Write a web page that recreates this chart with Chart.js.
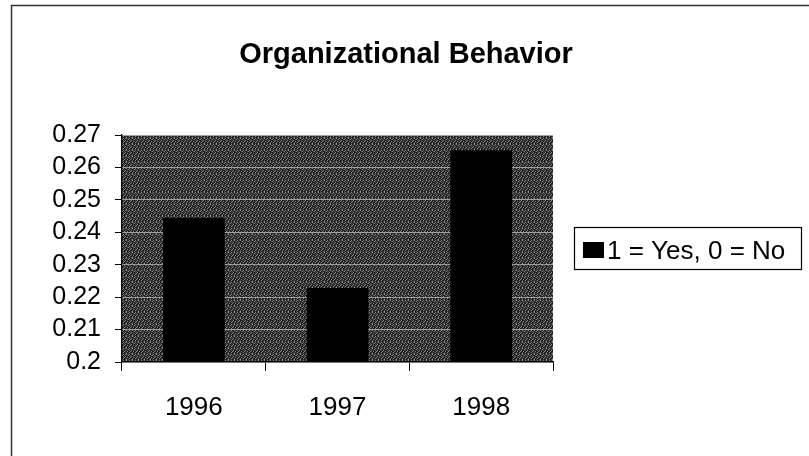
<!DOCTYPE html>
<html><head><meta charset="utf-8">
<script src="https://cdn.jsdelivr.net/npm/chart.js@4"></script>
<style>html,body{margin:0;padding:0;background:#fff}#wrap{width:809px;height:456px}</style>
</head><body><div id="wrap"><canvas id="c" width="809" height="456"></canvas></div>
<script>
const titleText = "Organizational Behavior";
const categories = ["1996", "1997", "1998"];
const seriesLabel = "1 = Yes, 0 = No";
const seriesValues = [0.2445, 0.2228, 0.2653];
const yTicks = [0.2, 0.21, 0.22, 0.23, 0.24, 0.25, 0.26, 0.27];

const FONT = '"Liberation Sans", Arial, sans-serif';

function makePattern(){
  const t = document.createElement('canvas'); t.width = 6; t.height = 6;
  const g = t.getContext('2d');
  g.fillStyle = '#1e1e1e'; g.fillRect(0,0,6,6);
  g.fillStyle = '#8c8c8c';
  [[0,0],[3,0],[2,1],[5,2],[1,3],[4,3],[0,5],[3,4]].forEach(p=>g.fillRect(p[0],p[1],1,1));
  g.fillStyle = '#4a4a4a';
  [[1,1],[5,0],[3,2],[0,4],[5,5],[2,5],[4,1]].forEach(p=>g.fillRect(p[0],p[1],1,1));
  return document.getElementById('c').getContext('2d').createPattern(t,'repeat');
}
const pattern = makePattern();

const decor = {
  id:'decor',
  beforeDraw(chart){
    const ctx = chart.ctx, a = chart.chartArea;
    ctx.save();
    ctx.fillStyle = pattern;
    ctx.fillRect(a.left, a.top, a.right-a.left, a.bottom-a.top);
    ctx.restore();
  },
  afterDraw(chart){
    const ctx = chart.ctx;
    ctx.save();
    // outer frame
    ctx.strokeStyle = '#333'; ctx.lineWidth = 1.5;
    ctx.beginPath(); ctx.moveTo(11.5,456); ctx.lineTo(11.5,5.5); ctx.lineTo(809,5.5); ctx.stroke();
    // title
    ctx.fillStyle = '#000';
    ctx.font = 'bold 29px ' + FONT;
    ctx.textAlign = 'center'; ctx.textBaseline = 'alphabetic';
    ctx.fillText(titleText, 406, 63);
    // legend
    const bx = 574, by = 227, bw = 227, bh = 42;
    ctx.strokeStyle = '#000'; ctx.lineWidth = 1.2;
    ctx.strokeRect(bx+0.5, by+0.5, bw, bh);
    ctx.fillStyle = chart.data.datasets[0].backgroundColor;
    ctx.fillRect(bx+9, by+15, 21, 16);
    ctx.fillStyle = '#000';
    ctx.font = '26px ' + FONT;
    ctx.textBaseline = 'alphabetic'; ctx.textAlign = 'left';
    ctx.fillText(chart.data.datasets[0].label, bx+33, by+32);
    ctx.restore();
  }
};

new Chart(document.getElementById('c'), {
  type:'bar',
  data:{ labels: categories, datasets:[{ label: seriesLabel, data: seriesValues, backgroundColor:'#000', borderWidth:0, barPercentage:0.43, categoryPercentage:1 }]},
  options:{
    responsive:false, animation:false, devicePixelRatio:1,
    layout:{ padding:{ left:12, right:256, top:135, bottom:0 } },
    plugins:{ legend:{ display:false }, tooltip:{ enabled:false }, title:{ display:false } },
    scales:{
      x:{
        grid:{ display:true, drawOnChartArea:false, drawTicks:true, tickLength:9, tickColor:'#000', offset:true },
        border:{ color:'#000', width:1.2 },
        ticks:{ color:'#000', padding:21, font:{ family:FONT, size:26 } },
        afterFit(s){ s.height = 94; }
      },
      y:{
        min:0.2, max:0.27,
        afterBuildTicks(s){ s.ticks = yTicks.map(v=>({value:v})); },
        grid:{ color:'#a0a0a0', lineWidth:1, tickLength:7, tickColor:'#000' },
        border:{ color:'#000', width:1.2 },
        ticks:{ color:'#000', padding:14, autoSkip:false, font:{ family:FONT, size:25, lineHeight:1 },
          callback:(v)=>String(Math.round(v*100)/100) },
        afterFit(s){ s.width = 110; }
      }
    }
  },
  plugins:[decor]
});
</script></body></html>
